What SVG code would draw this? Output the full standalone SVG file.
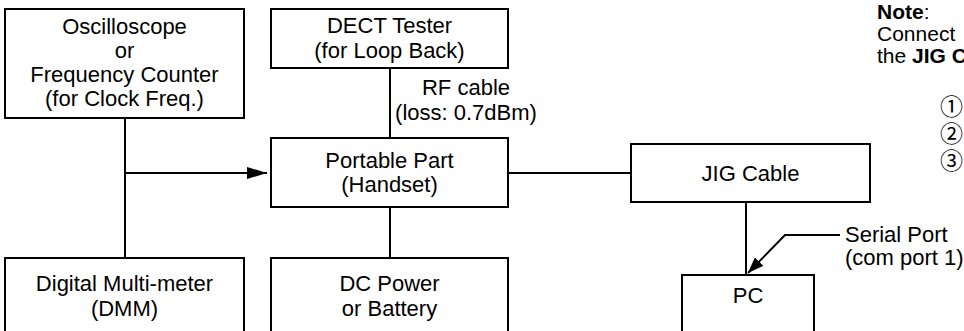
<svg xmlns="http://www.w3.org/2000/svg" width="964" height="331" viewBox="0 0 964 331">
<style>
.box{fill:#fff;stroke:#000;stroke-width:2}
.ln{fill:none;stroke:#000;stroke-width:2}
text{font-family:"Liberation Sans",Arial,sans-serif;font-size:22px;fill:#000}
.c{text-anchor:middle}
.b{font-weight:bold}
.n{font-size:21px}
.cd{font-family:"Noto Sans CJK JP","DejaVu Sans",sans-serif;font-size:23px}
</style>
<defs>
<marker id="ah" markerUnits="userSpaceOnUse" markerWidth="20" markerHeight="12" refX="20" refY="6" orient="auto"><path d="M0,0 L20,6 L0,12 z" fill="#000"/></marker>
<marker id="ah2" markerUnits="userSpaceOnUse" markerWidth="16" markerHeight="12" refX="16" refY="6" orient="auto"><path d="M0,0 L16,6 L0,12 z" fill="#000"/></marker>
</defs>
<rect width="964" height="331" fill="#fff"/>
<g id="connectors">
<line class="ln" x1="125" y1="118" x2="125" y2="258"/>
<line class="ln" x1="125" y1="173" x2="267" y2="173" marker-end="url(#ah)"/>
<line class="ln" x1="390" y1="68" x2="390" y2="138"/>
<line class="ln" x1="390" y1="207" x2="390" y2="258"/>
<line class="ln" x1="508" y1="173" x2="631" y2="173"/>
<line class="ln" x1="746" y1="202" x2="746" y2="275"/>
<polyline class="ln" points="840,235 785,235 748,273" marker-end="url(#ah2)"/>
</g>
<g id="oscilloscope">
<rect class="box" x="5" y="9" width="239" height="109"/>
<text class="c" x="124.5" y="34">Oscilloscope</text>
<text class="c" x="124.5" y="58">or</text>
<text class="c" x="124.5" y="82">Frequency Counter</text>
<text class="c" x="124.5" y="106">(for Clock Freq.)</text>
</g>
<g id="dect">
<rect class="box" x="271" y="9" width="237" height="59"/>
<text class="c" x="389.5" y="33">DECT Tester</text>
<text class="c" x="389.5" y="58">(for Loop Back)</text>
</g>
<g id="rf-label">
<text class="c" x="466" y="95">RF cable</text>
<text class="c" x="466" y="120">(loss: 0.7dBm)</text>
</g>
<g id="portable">
<rect class="box" x="271" y="138" width="237" height="69"/>
<text class="c" x="389.5" y="168">Portable Part</text>
<text class="c" x="389.5" y="192">(Handset)</text>
</g>
<g id="dmm">
<rect class="box" x="5" y="258" width="239" height="90"/>
<text class="c" x="124.5" y="291">Digital Multi-meter</text>
<text class="c" x="124.5" y="316">(DMM)</text>
</g>
<g id="dc">
<rect class="box" x="271" y="258" width="237" height="90"/>
<text class="c" x="389.5" y="291">DC Power</text>
<text class="c" x="389.5" y="316">or Battery</text>
</g>
<g id="jig">
<rect class="box" x="631" y="144" width="239" height="58"/>
<text class="c" x="750.5" y="181">JIG Cable</text>
</g>
<g id="pc">
<rect class="box" x="682" y="275" width="132" height="70"/>
<text class="c" x="748" y="303">PC</text>
</g>
<g id="serial-label">
<text x="845" y="242">Serial Port</text>
<text x="845" y="265">(com port 1)</text>
</g>
<g id="note">
<text class="n" x="877" y="19"><tspan class="b">Note</tspan>:</text>
<text class="n" x="877" y="41">Connect</text>
<text class="n" x="877" y="63">the <tspan class="b">JIG C</tspan></text>
<text class="cd" x="940" y="115"><tspan x="940">①</tspan><tspan x="940" dy="27">②</tspan><tspan x="940" dy="27">③</tspan></text>
</g>
</svg>
